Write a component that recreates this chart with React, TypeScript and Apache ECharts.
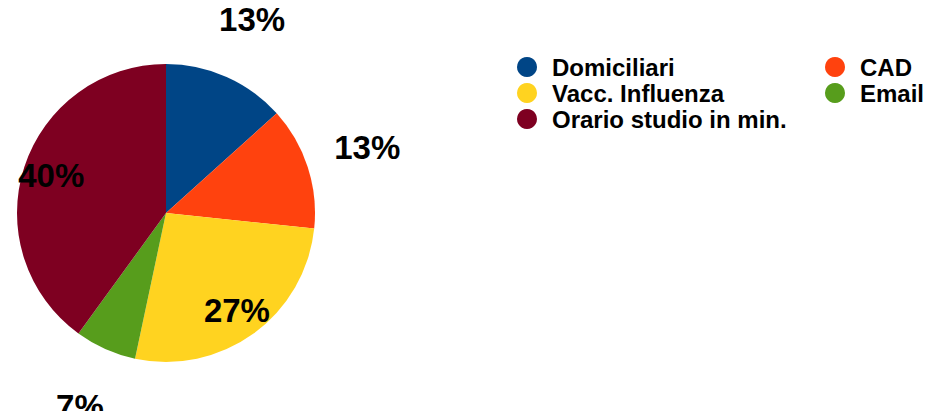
import React, { useEffect, useRef } from "react";
import * as echarts from "echarts";

const categories = ["Domiciliari", "CAD", "Vacc. Influenza", "Email", "Orario studio in min."];
const values = [2, 2, 4, 1, 6];
const colors = ["#004586", "#ff420e", "#ffd320", "#579d1c", "#7e0021"];
const labelOutside = [true, true, false, true, false];
const legendLeft = ["Domiciliari", "Vacc. Influenza", "Orario studio in min."];
const legendRight = ["CAD", "Email"];

const CX = 166;
const CY = 213;
const R = 149;
const FONT = "'Liberation Sans', Arial, sans-serif";

export default function App() {
  const ref = useRef<HTMLDivElement>(null);
  useEffect(() => {
    if (!ref.current) return;
    const chart = echarts.init(ref.current, undefined, { renderer: "svg" });
    const total = values.reduce((a, b) => a + b, 0);
    const legendCommon = {
      orient: "vertical" as const,
      top: 50,
      itemWidth: 20,
      itemHeight: 20,
      itemGap: 2,
      icon: "circle",
      selectedMode: false,
      textStyle: {
        color: "#000",
        fontWeight: "bold" as const,
        fontSize: 24,
        fontFamily: FONT,
        padding: [0, 0, 0, 10],
      },
    };
    chart.setOption({
      animation: false,
      color: colors,
      legend: [
        { ...legendCommon, left: 512, data: legendLeft },
        { ...legendCommon, left: 820, data: legendRight },
      ],
      series: [
        {
          type: "pie",
          center: [CX, CY],
          radius: [0, R],
          startAngle: 90,
          clockwise: true,
          silent: true,
          data: categories.map((name, i) => ({ name, value: values[i] })),
          label: {
            show: true,
            position: "inside",
            formatter: (p: any) => Math.round((p.value / total) * 100) + "%",
            color: "#000",
            fontSize: 33,
            fontWeight: "bold",
            fontFamily: FONT,
          },
          labelLine: { show: false },
          labelLayout: (params: any) => {
            const rect = params.labelRect;
            const lx = rect.x + rect.width / 2;
            const ly = rect.y + rect.height / 2;
            const dx = lx - CX;
            const dy = ly - CY;
            const d = Math.hypot(dx, dy) || 1;
            const target = labelOutside[params.dataIndex] ? R * 1.42 : R * 0.81;
            return {
              x: CX + (dx / d) * target,
              y: CY + (dy / d) * target,
              align: "center",
              verticalAlign: "middle",
            };
          },
        },
      ],
    });
    return () => chart.dispose();
  }, []);
  return (
    <div
      ref={ref}
      style={{ position: "absolute", left: 0, top: 0, width: 928, height: 411, background: "#fff" }}
    />
  );
}
